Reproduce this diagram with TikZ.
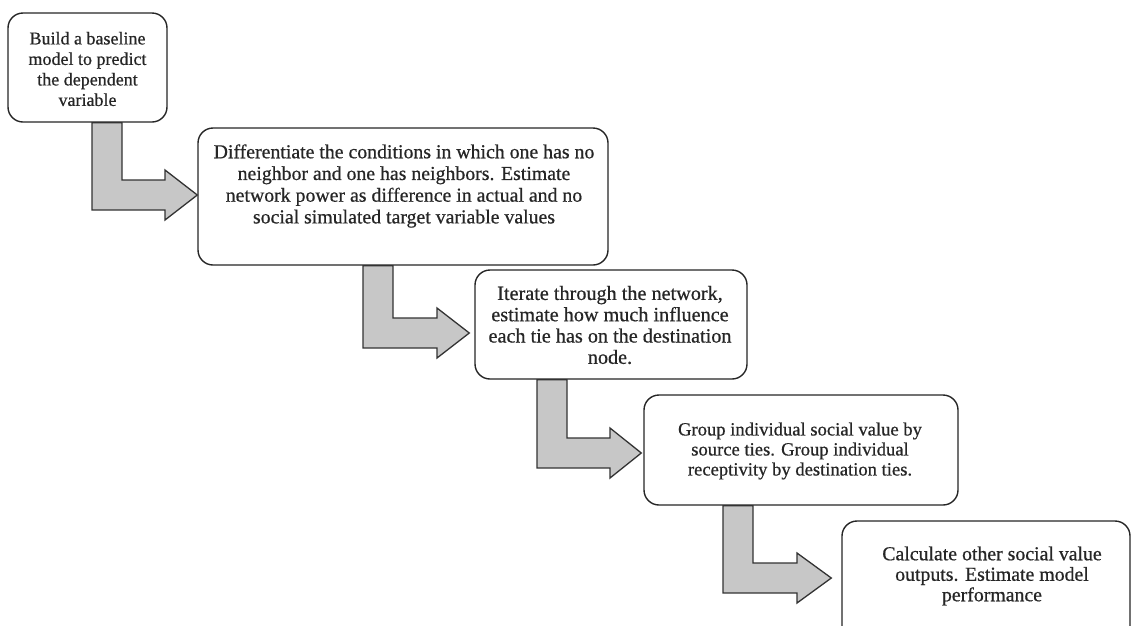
\documentclass[tikz,border=0pt]{standalone}
\usepackage{fontspec}
\setmainfont[FakeBold=0.6]{Liberation Serif}
\usetikzlibrary{calc}
\tikzset{
  box/.style={draw=black!85, line width=1.4pt, rounded corners=15pt, inner sep=0pt, fill=white},
  txt/.style={align=center, inner sep=0pt, text=black!85},
  blockarrow/.style={draw=black!80, line width=1.3pt, fill=black!22, line join=miter}
}
% #1 from-node, #2 target node, #3 shaft left x, #4 horizontal shaft top y, #5 head base x, #6 tip gap
\newcommand\blkarrow[6]{%
  \draw[blockarrow] (#3,0 |- #1.south) -- (#3+30,0 |- #1.south) -- (#3+30,#4) -- (#5,#4) -- (#5,#4-10)
    -- ($(#2.west |- 0,#4+15)+(-#6,0)$) -- (#5,#4+40) -- (#5,#4+30) -- (#3,#4+30) -- cycle;}
\begin{document}
\begin{tikzpicture}[x=1pt,y=-1pt]
\clip (0,0) rectangle (1131,625);
% boxes
\node[box, minimum width=159pt, minimum height=109pt] (b1) at (87.5,67.5) {};
\node[box, minimum width=410pt, minimum height=137pt] (b2) at (403,196.5) {};
\node[box, minimum width=272pt, minimum height=109pt] (b3) at (611,324.5) {};
\node[box, minimum width=314pt, minimum height=110pt] (b4) at (801,450) {};
\node[box, minimum width=288pt, minimum height=140pt] (b5) at (986,591) {};
% arrows
\blkarrow{b1}{b2}{92}{180}{165}{0}
\blkarrow{b2}{b3}{363}{318}{437}{5}
\blkarrow{b3}{b4}{537}{438}{610}{2}
\blkarrow{b4}{b5}{723}{563}{797}{10}
% texts
\node[txt, font=\fontsize{18}{20.5}\selectfont] (t1) at (87.5,69) {Build a baseline\\model to predict\\the dependent\\variable};
\node[txt, font=\fontsize{19.8}{21.7}\selectfont] (t2) at (404,186) {Differentiate the conditions in which one has no\\neighbor and one has neighbors. Estimate\\network power as difference in actual and no\\social simulated target variable values};
\node[txt, font=\fontsize{20.2}{21.3}\selectfont] (t3) at (610,325) {Iterate through the network,\\estimate how much influence\\each tie has on the destination\\node.};
\node[txt, font=\fontsize{18.6}{20}\selectfont] (t4) at (800,451) {Group individual social value by\\source ties. Group individual\\receptivity by destination ties.};
\node[txt, font=\fontsize{19.8}{20.5}\selectfont] (t5) at (992,576) {Calculate other social value\\outputs. Estimate model\\performance};
\end{tikzpicture}
\end{document}
